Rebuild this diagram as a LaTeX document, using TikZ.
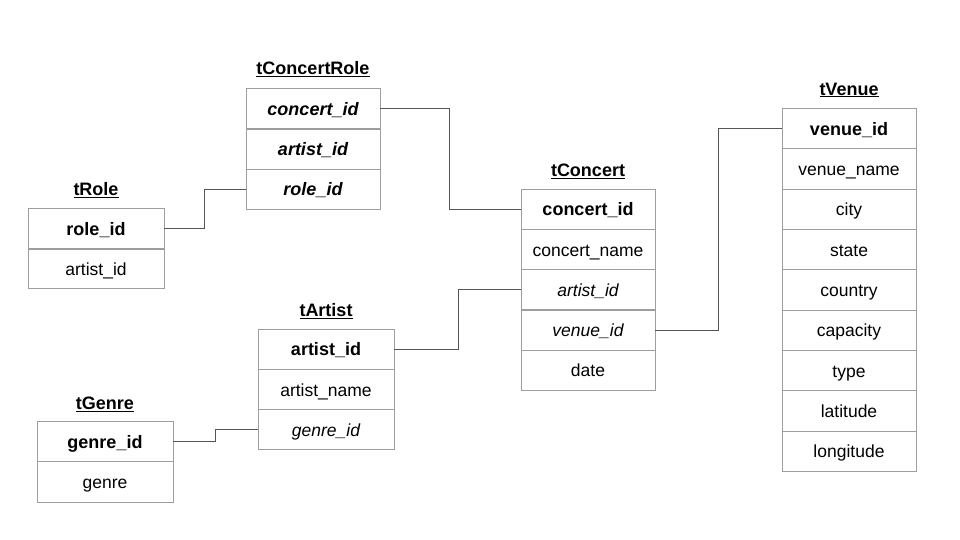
\documentclass[tikz,border=0pt]{standalone}
\usepackage{fontspec}
\setmainfont{Liberation Sans}
\definecolor{cellgray}{HTML}{9E9E9E}
\definecolor{linkgray}{HTML}{555555}
\begin{document}
\begin{tikzpicture}[x=1pt,y=-1pt,
  cell/.style={draw=cellgray, line width=1pt, rectangle, minimum height=40.3pt, inner sep=0pt, outer sep=0pt, text height=15pt, text depth=2pt, font=\fontsize{17.5}{20}\selectfont, text=black},
  pk/.style={cell, font=\fontsize{18}{20}\selectfont\bfseries},
  fk/.style={cell, font=\fontsize{17.5}{20}\selectfont\itshape},
  pfk/.style={cell, font=\fontsize{18}{20}\selectfont\bfseries\itshape},
  title/.style={font=\fontsize{18}{20}\selectfont\bfseries, inner sep=0pt},
  link/.style={draw=linkgray, line width=1pt},
  sep/.style={draw=cellgray, line width=2pt}
]
\useasboundingbox (0,0) rectangle (960,540);
\fill[white] (0,0) rectangle (960,540);

% tConcertRole
\node[title] (tcr) at (313,69) {\underline{tConcertRole}};
\node[pfk, minimum width=134pt] (cr1) at (313,108.6) {concert\_id};
\node[pfk, minimum width=134pt] (cr2) at (313,148.9) {artist\_id};
\node[pfk, minimum width=134pt] (cr3) at (313,189.2) {role\_id};
\draw[sep] (cr1.south west) -- (cr1.south east);

% tRole
\node[title] (tr) at (96,190) {\underline{tRole}};
\node[pk, minimum width=136pt] (r1) at (96,228.5) {role\_id};
\node[cell, minimum width=136pt] (r2) at (96,268.5) {artist\_id};
\draw[sep] (r1.south west) -- (r1.south east);

% tConcert
\node[title] (tc) at (588,171) {\underline{tConcert}};
\node[pk, minimum width=134pt] (c1) at (588,209.2) {concert\_id};
\node[cell, minimum width=134pt] (c2) at (588,249.5) {concert\_name};
\node[fk, minimum width=134pt] (c3) at (588,289.8) {artist\_id};
\node[fk, minimum width=134pt] (c4) at (588,330.1) {venue\_id};
\node[cell, minimum width=134pt] (c5) at (588,370.4) {date};
\draw[sep] (c3.south west) -- (c3.south east);

% tVenue
\node[title] (tv) at (849,90) {\underline{tVenue}};
\node[pk, minimum width=134pt] (v1) at (849,128.8) {venue\_id};
\node[cell, minimum width=134pt] (v2) at (849,169.1) {venue\_name};
\node[cell, minimum width=134pt] (v3) at (849,209.4) {city};
\node[cell, minimum width=134pt] (v4) at (849,249.7) {state};
\node[cell, minimum width=134pt] (v5) at (849,290.0) {country};
\node[cell, minimum width=134pt] (v6) at (849,330.3) {capacity};
\node[cell, minimum width=134pt] (v7) at (849,370.6) {type};
\node[cell, minimum width=134pt] (v8) at (849,410.9) {latitude};
\node[cell, minimum width=134pt] (v9) at (849,451.2) {longitude};

% tArtist
\node[title] (ta) at (326,311) {\underline{tArtist}};
\node[pk, minimum width=136pt] (a1) at (326,349.2) {artist\_id};
\node[cell, minimum width=136pt] (a2) at (326,389.5) {artist\_name};
\node[fk, minimum width=136pt] (a3) at (326,429.8) {genre\_id};

% tGenre
\node[title] (tg) at (105,404) {\underline{tGenre}};
\node[pk, minimum width=136pt] (g1) at (105,441.7) {genre\_id};
\node[cell, minimum width=136pt] (g2) at (105,482) {genre};

% connectors
\draw[link] (r1.east) -- ++(40,0) |- (cr3.west);
\draw[link] (cr1.east) -- ++(69.5,0) |- (c1.west);
\draw[link] (c3.west) -- ++(-62.5,0) |- (a1.east);
\draw[link] (c4.east) -- ++(63,0) |- (v1.west);
\draw[link] (g1.east) -- ++(42,0) |- (a3.west);
\end{tikzpicture}
\end{document}
